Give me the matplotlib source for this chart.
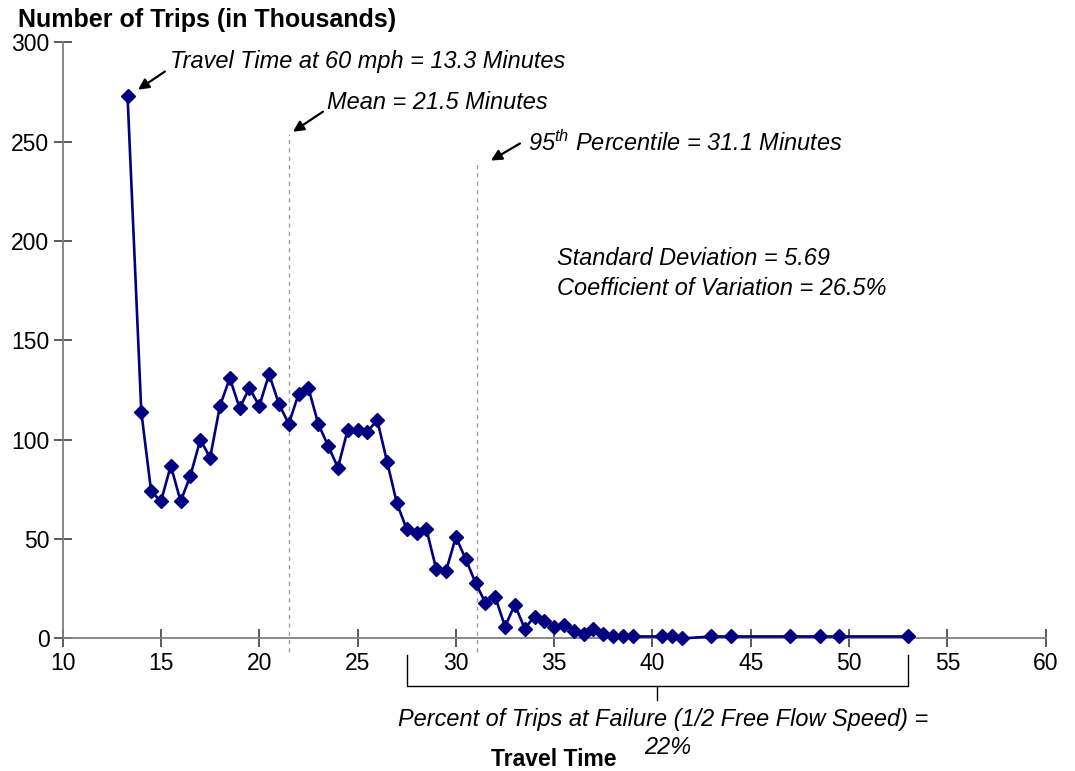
import matplotlib
matplotlib.use('Agg')
import matplotlib.pyplot as plt

plt.rcParams['font.family'] = ['Liberation Sans', 'DejaVu Sans']
plt.rcParams['mathtext.fontset'] = 'custom'
plt.rcParams['mathtext.rm'] = 'Liberation Sans:italic'
plt.rcParams['mathtext.it'] = 'Liberation Sans:italic'
plt.rcParams['mathtext.default'] = 'it'

# travel time (minutes) and number of trips (thousands)
minutes = [13.3, 14.0, 14.5, 15.0, 15.5, 16.0, 16.5, 17.0, 17.5, 18.0,
           18.5, 19.0, 19.5, 20.0, 20.5, 21.0, 21.5, 22.0, 22.5, 23.0,
           23.5, 24.0, 24.5, 25.0, 25.5, 26.0, 26.5, 27.0, 27.5, 28.0,
           28.5, 29.0, 29.5, 30.0, 30.5, 31.0, 31.5, 32.0, 32.5, 33.0,
           33.5, 34.0, 34.5, 35.0, 35.5, 36.0, 36.5, 37.0, 37.5, 38.0,
           38.5, 39.0, 40.5, 41.0, 41.5, 43.0, 44.0, 47.0, 48.5, 49.5,
           53.0]
trips = [273, 114, 74, 69, 87, 69, 82, 100, 91, 117,
         131, 116, 126, 117, 133, 118, 108, 123, 126, 108,
         97, 86, 105, 105, 104, 110, 89, 68, 55, 53,
         55, 35, 34, 51, 40, 28, 18, 21, 6, 17,
         5, 11, 9, 6, 7, 4, 2, 5, 2, 1.4,
         1, 1, 1, 1, 0, 1, 1, 1, 1, 1,
         1]

free_flow = 13.3
mean_tt = 21.5
pct95 = 31.1
std_dev = 5.69
cv = 26.5
failure_pct = 22
failure_span = (27.5, 53.0)

navy = '#000080'
grey = '#7f7f7f'

fig = plt.figure(figsize=(10.75, 7.71), dpi=100)
ax = fig.add_axes([0.0583, 0.1719, 0.9144, 0.7732])

ax.plot(minutes, trips, color=navy, lw=1.9, marker='D', markersize=7.3,
        markerfacecolor=navy, markeredgecolor=navy, clip_on=False, zorder=3)

# mean and 95th percentile markers
ax.plot([mean_tt, mean_tt], [-7, 254], ls='--', color='#a0a0a0', lw=1,
        dashes=(3, 3), clip_on=False, zorder=1)
ax.plot([pct95, pct95], [-7, 241], ls='--', color='#a0a0a0', lw=1,
        dashes=(3, 3), clip_on=False, zorder=1)

ax.set_xlim(10, 60)
ax.set_ylim(0, 300)
ax.set_xticks(range(10, 61, 5))
ax.set_yticks(range(0, 301, 50))

for s in ['top', 'right']:
    ax.spines[s].set_visible(False)
for s in ['left', 'bottom']:
    ax.spines[s].set_color(grey)
    ax.spines[s].set_linewidth(1.3)
ax.tick_params(direction='inout', length=13, width=1.2, color='#404040',
               labelsize=16.5, labelcolor='black')
ax.tick_params(axis='x', pad=3)
ax.tick_params(axis='y', pad=3)

fig.text(0.017, 0.974, 'Number of Trips (in Thousands)', fontsize=18,
         fontweight='bold', ha='left', va='center')
ax.set_xlabel('Travel Time', fontsize=16.5, fontweight='bold', labelpad=0)
ax.xaxis.set_label_coords(0.5, -0.183)

arrow = dict(arrowstyle='-|>', color='black', lw=1.6, mutation_scale=16,
             shrinkA=0, shrinkB=0)
ax.annotate('', xy=(13.83, 276.2), xytext=(15.2, 285.3), arrowprops=arrow)
ax.annotate('', xy=(21.71, 255.0), xytext=(23.24, 265.1), arrowprops=arrow)
ax.annotate('', xy=(31.78, 240.5), xytext=(33.26, 249.1), arrowprops=arrow)

txt = dict(fontsize=16.9, style='italic', ha='left', va='center')
ax.text(15.46, 290.3, f'Travel Time at 60 mph = {free_flow} Minutes', **txt)
ax.text(23.44, 269.6, f'Mean = {mean_tt} Minutes', **txt)
ax.text(33.67, 249.5, f'95$^{{th}}$ Percentile = {pct95} Minutes', **txt)
ax.text(35.14, 191.1, f'Standard Deviation = {std_dev}', **txt)
ax.text(35.14, 176.0, f'Coefficient of Variation = {cv}%', **txt)

# bracket over the failure region
lo, hi = failure_span
mid = (lo + hi) / 2
ax.plot([lo, lo, hi, hi], [-8.3, -23.9, -23.9, -8.3], color='black', lw=1,
        clip_on=False)
ax.plot([mid, mid], [-23.9, -31], color='black', lw=1, clip_on=False)
ax.text(40.53, -41.0, 'Percent of Trips at Failure (1/2 Free Flow Speed) =',
        fontsize=16.9, style='italic', ha='center', va='center')
ax.text(40.75, -55.1, f'{failure_pct}%', fontsize=16.9, style='italic',
        ha='center', va='center')

fig.savefig('out.png', dpi=100)
